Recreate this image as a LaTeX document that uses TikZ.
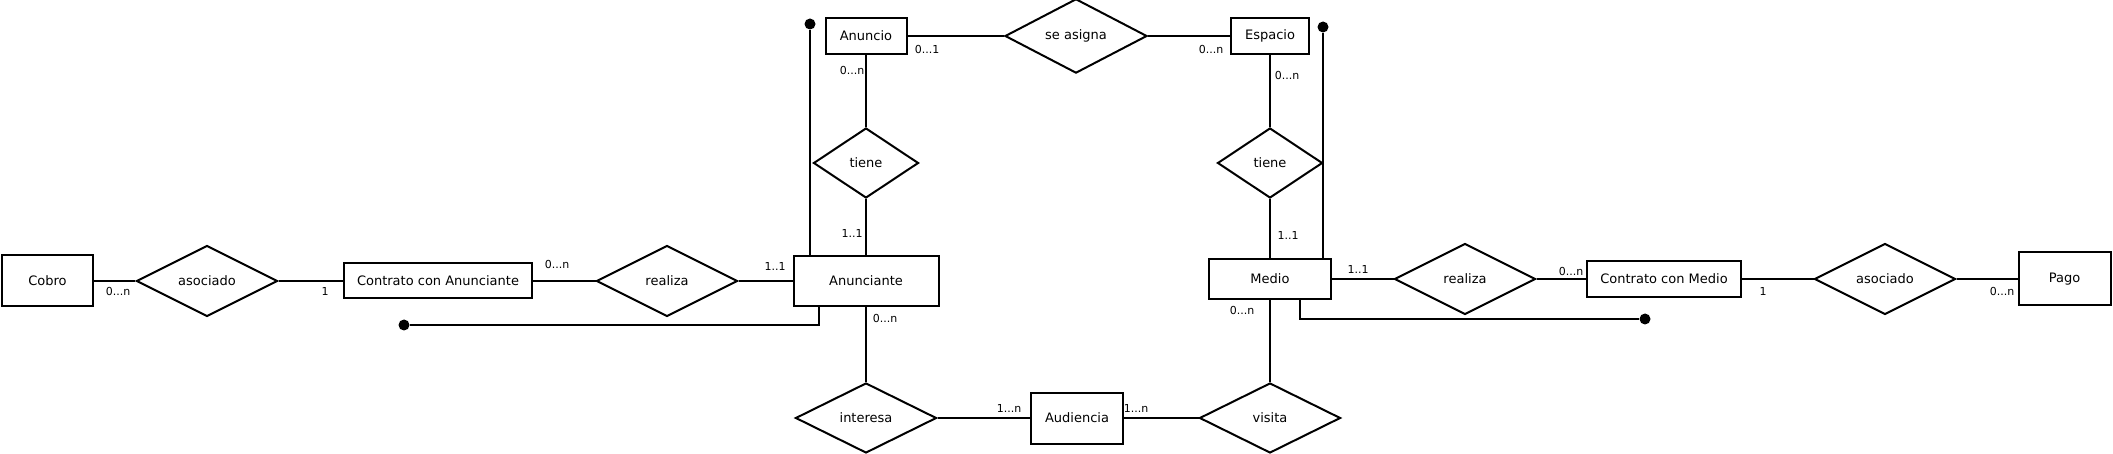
\documentclass[tikz,border=0pt]{standalone}
\usepackage{fontspec}
\setmainfont{DejaVu Sans}
\usetikzlibrary{shapes.geometric}
\begin{document}
\begin{tikzpicture}[x=1pt,y=-1pt,
  ln/.style={line width=2pt},
  ent/.style={draw,line width=2pt,rectangle,inner sep=0pt,font=\fontsize{13}{16}\selectfont},
  rel/.style={draw,line width=2pt,diamond,inner sep=0pt,minimum width=141pt,minimum height=71pt,font=\fontsize{13}{16}\selectfont},
  card/.style={inner sep=0pt,font=\fontsize{11}{13}\selectfont},
  dotst/.style={circle,fill,inner sep=0pt,minimum size=11pt}]
\useasboundingbox (0,0) rectangle (2113,454);
% left row
\node[ent,minimum width=91pt,minimum height=51pt] (cobro) at (47.5,281) {Cobro};
\node[rel] (asocA) at (207,281) {asociado};
\node[ent,minimum width=188pt,minimum height=35pt] (contA) at (438,281) {Contrato con Anunciante};
\node[rel] (realA) at (667,281) {realiza};
\node[ent,minimum width=145pt,minimum height=50pt] (anun) at (866,281) {Anunciante};
% top row
\node[ent,minimum width=81pt,minimum height=36pt] (anuncio) at (866,36) {Anuncio};
\node[rel,minimum width=142pt] (asigna) at (1076,36) {se asigna};
\node[ent,minimum width=78pt,minimum height=36pt] (espacio) at (1270,36) {Espacio};
\node[rel,minimum width=105pt,minimum height=70pt] (tieneA) at (866,163) {tiene};
\node[rel,minimum width=105pt,minimum height=70pt] (tieneM) at (1270,163) {tiene};
% right row
\node[ent,minimum width=122pt,minimum height=40pt] (medio) at (1270,279) {Medio};
\node[rel] (realM) at (1465,279) {realiza};
\node[ent,minimum width=154pt,minimum height=36pt] (contM) at (1664,279) {Contrato con Medio};
\node[rel] (asocM) at (1885,279) {asociado};
\node[ent,minimum width=92pt,minimum height=53pt] (pago) at (2064.5,279) {Pago};
% bottom row
\node[rel,minimum height=70pt] (interesa) at (866,418) {interesa};
\node[ent,minimum width=92pt,minimum height=51pt] (aud) at (1077,418) {Audiencia};
\node[rel,minimum height=70pt] (visita) at (1270,418) {visita};
% dots
\node[dotst] (dTL) at (810,24) {};
\node[dotst] (dTR) at (1323,27) {};
\node[dotst] (dBL) at (404,325) {};
\node[dotst] (dBR) at (1645,319) {};
% connectors
\draw[ln] (cobro) -- (asocA) -- (contA) -- (realA) -- (anun);
\draw[ln] (medio) -- (realM) -- (contM) -- (asocM) -- (pago);
\draw[ln] (anuncio) -- (asigna) -- (espacio);
\draw[ln] (anuncio) -- (tieneA) -- (anun);
\draw[ln] (espacio) -- (tieneM) -- (medio);
\draw[ln] (anun) -- (interesa) -- (aud) -- (visita) -- (medio);
\draw[ln] (dTL) -- (dTL |- anun.north);
\draw[ln] (dTR) -- (dTR |- medio.north);
\draw[ln] ([xshift=-47pt]anun.south) |- (dBL);
\draw[ln] ([xshift=30pt]medio.south) |- (dBR);
% cardinalities
\node[card] at (118,291) {0...n};
\node[card] at (325,291) {1};
\node[card] at (557,264) {0...n};
\node[card] at (775,266) {1..1};
\node[card] at (927,49) {0...1};
\node[card] at (1211,49) {0...n};
\node[card] at (852,70) {0...n};
\node[card] at (1287,75) {0...n};
\node[card] at (852,233) {1..1};
\node[card] at (1288,235) {1..1};
\node[card] at (885,318) {0...n};
\node[card] at (1242,310) {0...n};
\node[card] at (1358,269) {1..1};
\node[card] at (1571,271) {0...n};
\node[card] at (1763,291) {1};
\node[card] at (2002,291) {0...n};
\node[card] at (1009,408) {1...n};
\node[card] at (1136,408) {1...n};
\end{tikzpicture}
\end{document}
